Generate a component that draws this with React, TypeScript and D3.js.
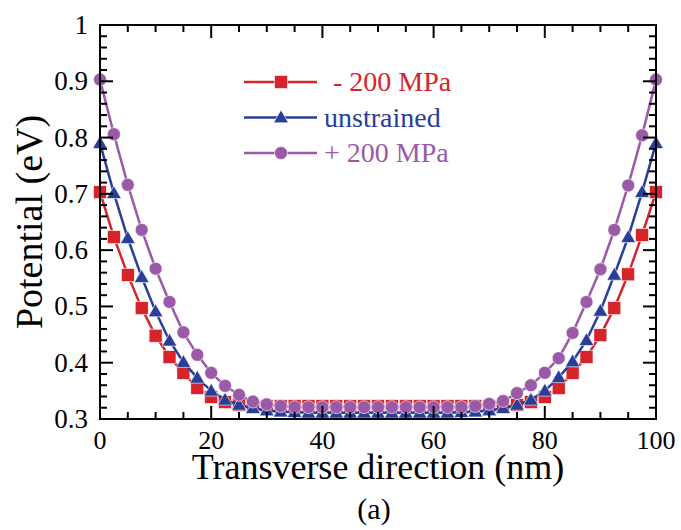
import * as d3 from "d3";

// x positions (nm), one point every 2.5 nm
const positions = [
  0, 2.5, 5, 7.5, 10, 12.5, 15, 17.5, 20, 22.5, 25, 27.5, 30,
  32.5, 35, 37.5, 40, 42.5, 45, 47.5, 50, 52.5, 55, 57.5, 60, 62.5, 65, 67.5,
  70, 72.5, 75, 77.5, 80, 82.5, 85, 87.5, 90, 92.5, 95, 97.5, 100,
];

const compressive = [
  0.703, 0.623, 0.556, 0.497, 0.448, 0.41, 0.382, 0.355, 0.339, 0.33, 0.325, 0.323, 0.323,
  0.323, 0.323, 0.323, 0.323, 0.323, 0.323, 0.323, 0.323, 0.323, 0.323, 0.323, 0.323, 0.323, 0.323, 0.323,
  0.323, 0.323, 0.325, 0.33, 0.339, 0.355, 0.382, 0.41, 0.449, 0.497, 0.557, 0.627, 0.703,
];

const unstrained = [
  0.79, 0.701, 0.621, 0.552, 0.491, 0.439, 0.401, 0.373, 0.35, 0.334, 0.325, 0.319, 0.315,
  0.313, 0.312, 0.311, 0.311, 0.311, 0.311, 0.311, 0.311, 0.311, 0.311, 0.311, 0.311, 0.311, 0.312, 0.313,
  0.315, 0.319, 0.325, 0.334, 0.35, 0.374, 0.402, 0.44, 0.492, 0.556, 0.623, 0.703, 0.79,
];

const tensile = [
  0.903, 0.806, 0.716, 0.636, 0.567, 0.508, 0.454, 0.414, 0.382, 0.359, 0.343, 0.331, 0.326,
  0.323, 0.321, 0.321, 0.321, 0.321, 0.321, 0.321, 0.321, 0.321, 0.321, 0.321, 0.321, 0.321, 0.321, 0.323,
  0.327, 0.332, 0.346, 0.36, 0.382, 0.408, 0.453, 0.508, 0.566, 0.636, 0.715, 0.804, 0.903,
];

const seriesNames = ["- 200 MPa", "unstrained", "+ 200 MPa"];
const seriesColors = ["#d7242b", "#2a3e98", "#9a5aa8"];
const seriesShapes = ["square", "triangle", "circle"];

const xTicks = [0, 20, 40, 60, 80, 100];
const yTicks = [0.3, 0.4, 0.5, 0.6, 0.7, 0.8, 0.9, 1];
const yTickLabels = ["0.3", "0.4", "0.5", "0.6", "0.7", "0.8", "0.9", "1"];

function Marker({shape, x, y, color}) {
  if (shape === "square")
    return <rect x={x - 6.5} y={y - 6.5} width={13} height={13} fill={color} stroke="#fff" strokeWidth={0.6} />;
  if (shape === "triangle")
    return <path d={d3.symbol(d3.symbolTriangle, 95)()} transform={`translate(${x},${y + 1})`} fill={color} stroke="#fff" strokeWidth={0.6} />;
  return <circle cx={x} cy={y} r={6.5} fill={color} stroke="#fff" strokeWidth={0.6} />;
}

export default function App() {
  const width = 681, height = 530;
  const left = 100, right = 656, top = 25, bottom = 419;

  const x = d3.scaleLinear().domain([0, 100]).range([left, right]);
  const y = d3.scaleLinear().domain([0.3, 1]).range([bottom, top]);

  const data = [compressive, unstrained, tensile];
  const line = d3.line<number>().x((_, i) => x(positions[i])).y((d) => y(d));

  const minorX = d3.range(0, 101, 5);
  const minorY = d3.range(0.3, 1.0001, 0.02);
  const font = "'Liberation Serif', 'Times New Roman', serif";

  return (
    <svg width={width} height={height} style={{position: "absolute", left: 0, top: 0, background: "#fff"}} fontFamily={font}>
      <rect width={width} height={height} fill="#fff" />

      {data.map((s, k) => (
        <g key={k}>
          <path d={line(s) || ""} fill="none" stroke={seriesColors[k]} strokeWidth={2.5} />
          {s.map((v, i) => (
            <Marker key={i} shape={seriesShapes[k]} x={x(positions[i])} y={y(v)} color={seriesColors[k]} />
          ))}
        </g>
      ))}

      {/* frame */}
      <rect x={left} y={top} width={right - left} height={bottom - top} fill="none" stroke="#000" strokeWidth={2} />

      {/* ticks on all four sides, pointing in */}
      {minorX.map((t) => {
        const len = xTicks.includes(t) ? 13 : 7;
        return (
          <g key={"x" + t} stroke="#000" strokeWidth={2}>
            <line x1={x(t)} x2={x(t)} y1={bottom} y2={bottom - len} />
            <line x1={x(t)} x2={x(t)} y1={top} y2={top + len} />
          </g>
        );
      })}
      {minorY.map((t, i) => {
        const len = i % 5 === 0 ? 13 : 7;
        return (
          <g key={"y" + i} stroke="#000" strokeWidth={2}>
            <line x1={left} x2={left + len} y1={y(t)} y2={y(t)} />
            <line x1={right} x2={right - len} y1={y(t)} y2={y(t)} />
          </g>
        );
      })}

      {xTicks.map((t) => (
        <text key={"xl" + t} x={x(t)} y={449} textAnchor="middle" fontSize={26}>{t}</text>
      ))}
      {yTicks.map((t, i) => (
        <text key={"yl" + t} x={88} y={y(t) + 9} textAnchor="end" fontSize={27}>{yTickLabels[i]}</text>
      ))}

      <text x={(left + right) / 2} y={479} textAnchor="middle" fontSize={36}>Transverse direction (nm)</text>
      <text transform={`translate(42,${(top + bottom) / 2}) rotate(-90)`} textAnchor="middle" fontSize={38}>Potential (eV)</text>
      <text x={374} y={519} textAnchor="middle" fontSize={30}>(a)</text>

      {/* legend */}
      {seriesNames.map((name, k) => {
        const ly = 82 + k * 35.5;
        return (
          <g key={"lg" + k}>
            <line x1={244} x2={317} y1={ly} y2={ly} stroke={seriesColors[k]} strokeWidth={2.5} />
            <Marker shape={seriesShapes[k]} x={281} y={ly} color={seriesColors[k]} />
            <text x={k === 0 ? 333 : 324} y={ly + 9} fontSize={28} fill={seriesColors[k]}>{name}</text>
          </g>
        );
      })}
    </svg>
  );
}
